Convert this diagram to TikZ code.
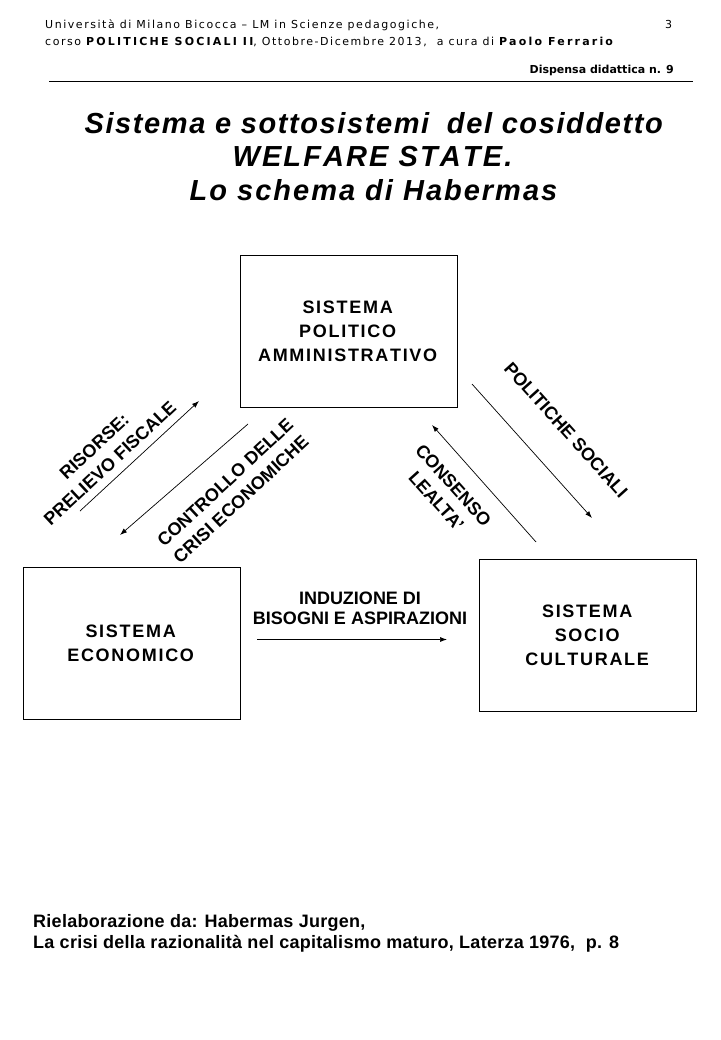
\documentclass[tikz,border=0pt]{standalone}
\usepackage{fontspec}
\setmainfont{Liberation Sans}
\newfontfamily\hdrfont{DejaVu Sans}
\usetikzlibrary{arrows.meta}
\newdimen\trkamt
\def\trkend{\trkend}
\def\trk#1{\trkloop#1\trkend}
\def\trkloop#1{\ifx#1\trkend\else#1\kern\trkamt\expandafter\trkloop\fi}
\def\btrk#1{{\trkamt=1.7pt\relax\trk{#1}}}
\begin{document}
\begin{tikzpicture}[x=1pt,y=-1pt,
  hdr/.style={inner sep=0pt,anchor=base west,font=\hdrfont\fontsize{11}{12}\selectfont\addfontfeature{LetterSpace=14}},
  ttl/.style={inner sep=0pt,anchor=base,font=\fontsize{29}{34}\selectfont\bfseries\itshape},
  sysbox/.style={draw,line width=0.8pt,minimum width=217pt,minimum height=152pt,inner sep=0pt,align=center,
     font=\fontsize{18}{24}\selectfont\bfseries},
  lbl/.style={inner sep=0pt,align=center,font=\fontsize{18}{23}\selectfont\bfseries},
  foot/.style={inner sep=0pt,anchor=base west,font=\fontsize{18}{21}\selectfont\bfseries\addfontfeature{LetterSpace=1.5}},
  flow/.style={line width=0.7pt,-{Latex[length=7pt,width=5pt]}}]
\useasboundingbox[fill=white] (0,0) rectangle (720,1040);
% header
\node[hdr] (h1) at (45,29) {Università di Milano Bicocca – LM in Scienze pedagogiche,};
\node[hdr] (h2) at (45,45.5) {corso {\hdrfont\fontsize{11}{12}\selectfont\bfseries\addfontfeature{LetterSpace=20}POLITICHE SOCIALI II}, Ottobre-Dicembre 2013,~ a cura di {\hdrfont\fontsize{11}{12}\selectfont\bfseries\addfontfeature{LetterSpace=20}Paolo Ferrario}};
\node[hdr] (pg) at (665,29) {3};
\node[inner sep=0pt,anchor=base east,font=\hdrfont\fontsize{11}{12}\selectfont\bfseries] (disp) at (674,73.5) {Dispensa didattica n. 9};
\coordinate (r1) at (49,81);
\coordinate (r2) at (693,81);
\draw[line width=0.9pt] (r1) -- (r2);
% title
\node[ttl] (t1) at (374.5,133.5) {\trkamt=1.6pt\relax\trk{Sistema}\ \trk{e}\ \trk{sottosistemi}\ \ \trk{del}\ \trk{cosiddetto}};
\node[ttl] (t2) at (373.5,167) {\trkamt=2.1pt\relax\trk{WELFARE}\ \trk{STATE.}};
\node[ttl] (t3) at (374.5,200.5) {\trkamt=2pt\relax\trk{Lo}\ \trk{schema}\ \trk{di}\ \trk{Habermas}};
% boxes
\node[sysbox] (pol) at (348.5,331.5) {\btrk{SISTEMA}\\\btrk{POLITICO}\\\btrk{AMMINISTRATIVO}};
\node[sysbox] (eco) at (131.5,643) {\btrk{SISTEMA}\\\btrk{ECONOMICO}};
\node[sysbox] (soc) at (588,635) {\btrk{SISTEMA}\\\btrk{SOCIO}\\\btrk{CULTURALE}};
% arrows
\coordinate (a1s) at (80,511);
\coordinate (a1e) at (199,401);
\draw[flow] (a1s) -- (a1e);
\coordinate (a2s) at (248,424);
\coordinate (a2e) at (120,535);
\draw[flow] (a2s) -- (a2e);
\coordinate (a3s) at (472,384);
\coordinate (a3e) at (592,518);
\draw[flow] (a3s) -- (a3e);
\coordinate (a4s) at (536,542);
\coordinate (a4e) at (432,425);
\draw[flow] (a4s) -- (a4e);
\coordinate (a5s) at (257,639.5);
\coordinate (a5e) at (447,639.5);
\draw[flow] (a5s) -- (a5e);
% labels
\node[lbl,rotate=43] (l1) at (102,455) {RISORSE:\\PRELIEVO FISCALE};
\node[lbl,rotate=43] (l2) at (233,491) {CONTROLLO DELLE\\CRISI ECONOMICHE};
\node[lbl,rotate=-48] (l3) at (566,430) {POLITICHE SOCIALI};
\node[lbl,rotate=-48] (l4) at (445,493) {CONSENSO\\LEALTA'};
\node[lbl,font=\fontsize{18}{20}\selectfont\bfseries] (l5) at (360,608) {INDUZIONE DI\\BISOGNI E ASPIRAZIONI};
% footer
\node[foot] (f1) at (33,927) {Rielaborazione da: Habermas Jurgen,};
\node[foot] (f2) at (33,948) {La crisi della razionalità nel capitalismo maturo, Laterza 1976,~ p. 8};
\end{tikzpicture}
\end{document}
